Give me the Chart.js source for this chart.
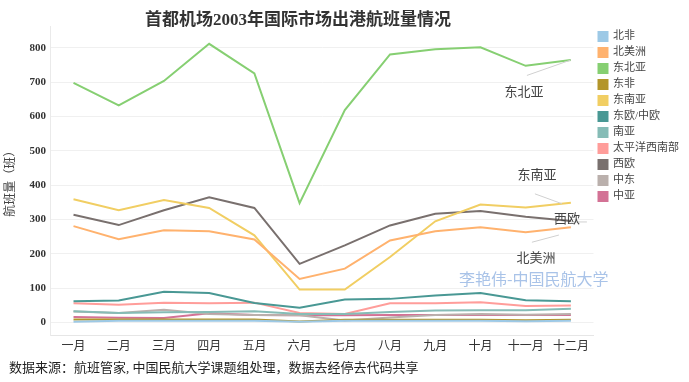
<!DOCTYPE html>
<html><head><meta charset="utf-8">
<script src="https://cdn.jsdelivr.net/npm/chart.js@4.4.1/dist/chart.umd.min.js"></script>
<style>
html,body{margin:0;padding:0;background:#fff;}
#wrap{position:relative;width:689px;height:382px;}
#title{position:absolute;left:0;width:596px;top:5px;text-align:center;font:bold 17px "Liberation Serif","Noto Sans CJK SC",serif;color:#333;}
#foot{position:absolute;left:9px;top:357px;font:13px "Liberation Serif","Noto Sans CJK SC",serif;color:#222;}
canvas{position:absolute;left:0;top:0;}
</style></head><body>
<div id="wrap">
<canvas id="c" width="689" height="382"></canvas>
<div id="title">首都机场2003年国际市场出港航班量情况</div>
<div id="foot">数据来源：航班管家, 中国民航大学课题组处理，数据去经停去代码共享</div>
</div>
<script>
const months = ['一月','二月','三月','四月','五月','六月','七月','八月','九月','十月','十一月','十二月'];
const northAfrica   = [2,5,5,5,5,2,5,5,5,5,4,5];
const northAmerica  = [281,243,269,266,242,127,157,239,266,278,263,278];
const northeastAsia = [698,633,704,812,726,348,619,781,796,802,748,765];
const eastAfrica    = [9,9,9,9,9,3,8,8,8,8,7,8];
const southeastAsia = [359,327,357,334,254,96,96,191,295,344,335,349];
const eastCentralEurope = [62,64,90,86,57,43,67,69,79,86,65,62];
const southAsia     = [33,28,30,31,33,25,25,31,35,36,36,40];
const southwestPacific = [56,52,58,56,58,28,25,56,56,59,48,50];
const westernEurope = [314,284,327,365,334,171,225,283,317,325,308,296];
const middleEast    = [32,28,37,25,22,21,6,15,22,25,23,25];
const centralAsia   = [16,14,13,27,22,21,21,22,22,22,22,22];
const yTicks = [0,100,200,300,400,500,600,700,800];

const seriesNames = ['北非','北美洲','东北亚','东非','东南亚','东欧/中欧','南亚','太平洋西南部','西欧','中东','中亚'];
const seriesData = [northAfrica,northAmerica,northeastAsia,eastAfrica,southeastAsia,eastCentralEurope,southAsia,southwestPacific,westernEurope,middleEast,centralAsia];
const colors = ['#9dc9e6','#ffb26e','#86cf72','#b3952a','#f1ce63','#499894','#86bcb6','#ff9d9a','#79706e','#bab0ac','#d37295'];

const serif = '"Liberation Serif","Noto Sans CJK SC",serif';

const annot = {
  id:'annot',
  afterDatasetsDraw(chart){
    const ctx = chart.ctx, x = chart.scales.x, y = chart.scales.y;
    const xl = x.getPixelForValue(11);
    ctx.save();
    ctx.strokeStyle = '#d0d0d0'; ctx.lineWidth = 1;
    const lines = [
      [xl, y.getPixelForValue(765), xl-44, y.getPixelForValue(720)],
      [xl-9, y.getPixelForValue(355)+3, xl-36, y.getPixelForValue(375)],
      [xl, y.getPixelForValue(296)+1, xl+16, y.getPixelForValue(296)+1],
      [xl-12, y.getPixelForValue(255), xl-39, y.getPixelForValue(234)]
    ];
    lines.forEach(l=>{ctx.beginPath();ctx.moveTo(l[0],l[1]);ctx.lineTo(l[2],l[3]);ctx.stroke();});
    ctx.fillStyle = '#444';
    ctx.font = '13px ' + serif;
    ctx.textAlign = 'center'; ctx.textBaseline = 'middle';
    ctx.fillText('东北亚', xl-47, y.getPixelForValue(670));
    ctx.fillText('东南亚', xl-34, y.getPixelForValue(427));
    ctx.fillText('北美洲', xl-35, y.getPixelForValue(185));
    ctx.fillText('西欧', xl-4, y.getPixelForValue(300));
    ctx.fillStyle = '#a9c3e8';
    ctx.font = '16px "Noto Sans CJK SC",sans-serif';
    ctx.textAlign = 'left';
    ctx.fillText('李艳伟-中国民航大学', xl-112, y.getPixelForValue(128));
    ctx.restore();
  }
};

new Chart(document.getElementById('c'), {
  type:'line',
  data:{
    labels: months,
    datasets: seriesNames.map((n,i)=>({
      label:n, data:seriesData[i], borderColor:colors[i], backgroundColor:colors[i],
      borderWidth:2, pointRadius:0, tension:0, fill:false
    }))
  },
  options:{
    responsive:false, animation:false,
    layout:{padding:{top:26,bottom:24,left:0,right:0}},
    plugins:{
      legend:{position:'right', align:'start',
        labels:{boxWidth:9, boxHeight:9, padding:5, color:'#444', font:{size:11, family:serif}}},
      tooltip:{enabled:false}
    },
    scales:{
      x:{offset:true,
        grid:{display:false, drawTicks:false},
        border:{color:'#e6e6e6'},
        ticks:{color:'#333', padding:4, font:{size:12, family:serif}}},
      y:{min:-38, max:864,
        afterBuildTicks(s){ s.ticks = yTicks.map(v=>({value:v})); },
        grid:{color:'#f0f0f0', drawTicks:false},
        border:{color:'#eaeaea'},
        title:{display:true, text:'航班量（班）', color:'#444', font:{size:12, family:serif}, padding:{bottom:6}},
        ticks:{color:'#333', padding:5, font:{size:11, family:serif, weight:'bold'}}}
    }
  },
  plugins:[annot]
});
</script>
</body></html>
